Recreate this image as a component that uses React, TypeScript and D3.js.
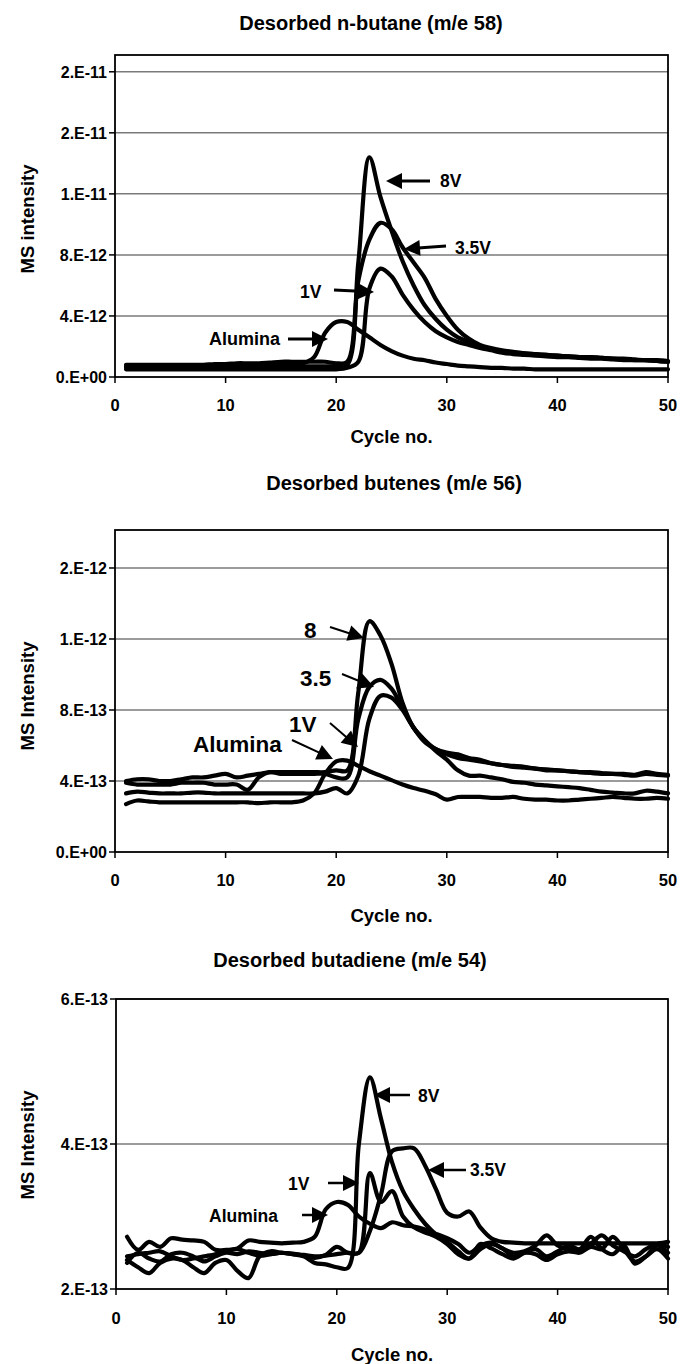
import React from 'react';
import * as d3 from 'd3';

// Cycle numbers shared by every panel
const cycles = d3.range(1, 51);

// Desorbed n-butane (m/e 58), intensity in units of 1e-12
const butaneAlumina = [
  0.7, 0.6, 0.6, 0.7, 0.7, 0.6, 0.6, 0.6, 0.7, 0.7,
  0.7, 0.7, 0.75, 0.8, 0.8, 0.85, 0.9, 1.3, 2.9, 3.6,
  3.6, 3.1, 2.6, 2.1, 1.7, 1.4, 1.2, 1.1, 0.95, 0.85,
  0.75, 0.7, 0.65, 0.6, 0.6, 0.55, 0.55, 0.5, 0.5, 0.5,
  0.5, 0.5, 0.5, 0.5, 0.5, 0.5, 0.5, 0.5, 0.5, 0.5,
];
const butane1V = [
  0.5, 0.5, 0.5, 0.5, 0.5, 0.5, 0.5, 0.5, 0.5, 0.5,
  0.5, 0.5, 0.5, 0.5, 0.5, 0.5, 0.5, 0.5, 0.5, 0.5,
  0.6, 1.0, 5.8, 7.1, 6.6, 5.4, 4.4, 3.6, 3.0, 2.6,
  2.3, 2.1, 1.9, 1.75, 1.6, 1.5, 1.45, 1.4, 1.35, 1.3,
  1.3, 1.25, 1.2, 1.2, 1.15, 1.1, 1.1, 1.1, 1.05, 1.0,
];
const butane35V = [
  0.8, 0.8, 0.8, 0.8, 0.8, 0.8, 0.8, 0.8, 0.85, 0.85,
  0.9, 0.9, 0.9, 0.95, 1.0, 1.0, 1.0, 1.0, 1.0, 0.9,
  1.0, 6.3, 9.0, 10.1, 9.7, 8.5, 7.5, 6.5, 5.1, 4.0,
  3.1, 2.5, 2.1, 1.9, 1.75, 1.65, 1.55, 1.5, 1.45, 1.4,
  1.35, 1.3, 1.3, 1.25, 1.2, 1.15, 1.1, 1.1, 1.05, 1.0,
];
const butane8V = [
  0.6, 0.6, 0.6, 0.6, 0.6, 0.6, 0.6, 0.6, 0.6, 0.6,
  0.6, 0.6, 0.65, 0.7, 0.7, 0.7, 0.7, 0.7, 0.7, 0.7,
  0.8, 7.5, 14.4, 11.8, 9.6, 7.6, 6.0, 4.7, 3.8, 3.1,
  2.6, 2.3, 2.0, 1.8, 1.7, 1.6, 1.55, 1.5, 1.45, 1.4,
  1.35, 1.3, 1.3, 1.25, 1.2, 1.2, 1.15, 1.1, 1.1, 1.05,
];
const butaneTicks = [0, 4, 8, 12, 16, 20];
const butaneTickLabels = ['0.E+00', '4.E-12', '8.E-12', '1.E-11', '2.E-11', '2.E-11'];

// Desorbed butenes (m/e 56), intensity in units of 1e-13
const buteneAlumina = [
  2.7, 2.9, 2.85, 2.8, 2.8, 2.8, 2.8, 2.8, 2.8, 2.8,
  2.8, 2.8, 2.75, 2.8, 2.8, 2.8, 2.9, 3.3, 4.4, 5.1,
  5.15, 4.85, 4.55, 4.3, 4.05, 3.8, 3.6, 3.45, 3.25, 2.95,
  3.1, 3.1, 3.1, 3.05, 3.05, 3.1, 3.0, 2.95, 2.95, 2.9,
  2.9, 2.95, 3.0, 3.05, 3.1, 3.05, 3.0, 3.0, 3.05, 3.0,
];
const butene1V = [
  3.3, 3.4, 3.35, 3.3, 3.3, 3.3, 3.35, 3.35, 3.3, 3.3,
  3.3, 3.3, 3.3, 3.3, 3.3, 3.3, 3.3, 3.3, 3.4, 3.6,
  3.3, 4.3, 7.5, 8.8, 8.7, 8.0, 7.0, 6.3, 5.7, 5.2,
  4.6, 4.3, 4.3, 4.2, 4.1, 3.95, 3.9, 3.8, 3.75, 3.7,
  3.65, 3.6, 3.5, 3.4, 3.35, 3.3, 3.3, 3.45, 3.4, 3.3,
];
const butene35V = [
  3.9, 3.8, 3.8, 3.8, 3.8, 3.9, 3.9, 3.9, 3.8, 3.8,
  3.8, 3.5, 4.2, 4.5, 4.4, 4.4, 4.4, 4.4, 4.4, 4.2,
  4.2, 7.5, 9.3, 9.7, 9.2, 8.1, 7.0, 6.2, 5.8, 5.5,
  5.3, 5.2, 5.1, 5.0, 4.9, 4.8, 4.75, 4.7, 4.65, 4.6,
  4.55, 4.5, 4.45, 4.4, 4.4, 4.35, 4.3, 4.4, 4.35, 4.3,
];
const butene8V = [
  4.0, 4.1, 4.1, 4.0, 4.0, 4.1, 4.2, 4.2, 4.3, 4.4,
  4.2, 4.3, 4.4, 4.5, 4.5, 4.5, 4.5, 4.5, 4.5, 4.6,
  4.6, 9.0, 13.0, 12.2, 10.6, 8.4, 7.0, 6.3, 5.8, 5.6,
  5.5, 5.3, 5.2, 5.0, 4.9, 4.85, 4.8, 4.7, 4.6, 4.6,
  4.55, 4.5, 4.5, 4.45, 4.4, 4.4, 4.35, 4.5, 4.4, 4.35,
];
const buteneTicks = [0, 4, 8, 12, 16];
const buteneTickLabels = ['0.E+00', '4.E-13', '8.E-13', '1.E-12', '2.E-12'];

// Desorbed butadiene (m/e 54), intensity in units of 1e-13
const butadieneAlumina = [
  2.72, 2.54, 2.65, 2.58, 2.7, 2.68, 2.67, 2.65, 2.54, 2.54,
  2.56, 2.67, 2.65, 2.64, 2.63, 2.64, 2.65, 2.72, 3.1, 3.2,
  3.16, 3.0, 2.9, 2.84, 2.92, 2.88, 2.86, 2.82, 2.76, 2.7,
  2.62, 2.5, 2.6, 2.64, 2.56, 2.5, 2.52, 2.6, 2.74, 2.6,
  2.55, 2.52, 2.62, 2.74, 2.6, 2.52, 2.45, 2.55, 2.62, 2.58,
];
const butadiene1V = [
  2.4, 2.3, 2.22, 2.36, 2.42, 2.4, 2.3, 2.22, 2.36, 2.4,
  2.25, 2.15, 2.45, 2.52, 2.5, 2.49, 2.46, 2.43, 2.47, 2.58,
  2.5, 2.5, 3.6, 3.2, 3.35, 3.0, 2.85, 2.78, 2.72, 2.62,
  2.48, 2.42, 2.55, 2.62, 2.56, 2.45, 2.5, 2.48, 2.4, 2.48,
  2.52, 2.5, 2.58, 2.55, 2.72, 2.55, 2.38, 2.45, 2.55, 2.42,
];
const butadiene35V = [
  2.45, 2.48, 2.5, 2.52, 2.45, 2.4, 2.42, 2.45, 2.48, 2.52,
  2.55, 2.5, 2.46, 2.48, 2.5, 2.48, 2.47, 2.45, 2.46, 2.48,
  2.5, 2.5, 2.8, 3.3, 3.9, 3.94, 3.94, 3.7, 3.37, 3.05,
  3.0, 3.07, 2.85, 2.7, 2.65, 2.64, 2.63, 2.63, 2.63, 2.63,
  2.63, 2.63, 2.63, 2.63, 2.63, 2.63, 2.63, 2.63, 2.63, 2.65,
];
const butadiene8V = [
  2.36, 2.5, 2.42, 2.38, 2.48, 2.5, 2.45, 2.38, 2.45, 2.5,
  2.48, 2.52, 2.5, 2.48, 2.5, 2.48, 2.45, 2.36, 2.34, 2.3,
  2.29, 4.0, 4.92, 4.35, 3.75, 3.35, 3.1, 2.9, 2.75, 2.65,
  2.52, 2.42, 2.62, 2.56, 2.48, 2.42, 2.5, 2.55, 2.45, 2.52,
  2.6, 2.55, 2.72, 2.55, 2.48, 2.6, 2.35, 2.45, 2.6, 2.5,
];
const butadieneTicks = [2, 4, 6];
const butadieneTickLabels = ['2.E-13', '4.E-13', '6.E-13'];

const xTicks = [0, 10, 20, 30, 40, 50];

type Note = { text: string; tx: number; ty: number; x1: number; y1: number; x2: number; y2: number; size: number; lw: number };

type Panel = {
  title: string; titleX: number; titleY: number;
  yLabel: string; yLabelY: number;
  left: number; right: number; top: number; bottom: number;
  yDomain: [number, number];
  ticks: number[]; tickLabels: string[];
  xTickY: number; xTitleY: number;
  series: number[][];
  notes: Note[];
};

const panels: Panel[] = [
  {
    title: 'Desorbed n-butane (m/e 58)', titleX: 371, titleY: 23,
    yLabel: 'MS intensity', yLabelY: 219,
    left: 115, right: 668, top: 55, bottom: 377,
    yDomain: [0, 21.1], ticks: butaneTicks, tickLabels: butaneTickLabels,
    xTickY: 405, xTitleY: 436,
    series: [butaneAlumina, butane1V, butane35V, butane8V],
    notes: [
      { text: '8V', tx: 440, ty: 181, x1: 430, y1: 181, x2: 386, y2: 181, size: 17.5, lw: 3 },
      { text: '3.5V', tx: 455, ty: 248, x1: 446, y1: 246, x2: 404, y2: 249, size: 17.5, lw: 3 },
      { text: '1V', tx: 300, ty: 292, x1: 334, y1: 290, x2: 374, y2: 292, size: 17.5, lw: 3 },
      { text: 'Alumina', tx: 209, ty: 339, x1: 288, y1: 339, x2: 328, y2: 339, size: 18, lw: 3 },
    ],
  },
  {
    title: 'Desorbed butenes (m/e  56)', titleX: 394, titleY: 483,
    yLabel: 'MS Intensity', yLabelY: 696,
    left: 115, right: 668, top: 530, bottom: 852,
    yDomain: [0, 18.14], ticks: buteneTicks, tickLabels: buteneTickLabels,
    xTickY: 880, xTitleY: 915,
    series: [buteneAlumina, butene1V, butene35V, butene8V],
    notes: [
      { text: '8', tx: 304, ty: 630, x1: 330, y1: 627, x2: 364, y2: 638, size: 22.5, lw: 2 },
      { text: '3.5', tx: 300, ty: 678, x1: 342, y1: 674, x2: 374, y2: 687, size: 22.5, lw: 2 },
      { text: '1V', tx: 289, ty: 724, x1: 330, y1: 723, x2: 358, y2: 747, size: 22.5, lw: 2 },
      { text: 'Alumina', tx: 193, ty: 744, x1: 292, y1: 740, x2: 333, y2: 759, size: 22.5, lw: 2 },
    ],
  },
  {
    title: 'Desorbed butadiene (m/e 54)', titleX: 350, titleY: 960,
    yLabel: 'MS Intensity', yLabelY: 1145,
    left: 116, right: 668, top: 999, bottom: 1289,
    yDomain: [2, 6], ticks: butadieneTicks, tickLabels: butadieneTickLabels,
    xTickY: 1318, xTitleY: 1354,
    series: [butadieneAlumina, butadiene1V, butadiene35V, butadiene8V],
    notes: [
      { text: '8V', tx: 418, ty: 1096, x1: 410, y1: 1095, x2: 374, y2: 1095, size: 17.5, lw: 2.5 },
      { text: '3.5V', tx: 470, ty: 1170, x1: 466, y1: 1170, x2: 428, y2: 1170, size: 17.5, lw: 2.5 },
      { text: '1V', tx: 288, ty: 1184, x1: 328, y1: 1183, x2: 359, y2: 1183, size: 17.5, lw: 2.5 },
      { text: 'Alumina', tx: 209, ty: 1216, x1: 302, y1: 1215, x2: 328, y2: 1215, size: 17.5, lw: 2.5 },
    ],
  },
];

const FONT = 'Liberation Sans, Arial, sans-serif';

function Arrow({ n }: { n: Note }) {
  const dx = n.x2 - n.x1;
  const dy = n.y2 - n.y1;
  const len = Math.hypot(dx, dy);
  const ux = dx / len;
  const uy = dy / len;
  const L = 16;
  const hw = 8;
  const bx = n.x2 - ux * L;
  const by = n.y2 - uy * L;
  const pts = [
    [n.x2, n.y2],
    [bx - uy * hw, by + ux * hw],
    [bx + uy * hw, by - ux * hw],
  ].map((p) => p.join(',')).join(' ');
  return (
    <g>
      <line x1={n.x1} y1={n.y1} x2={bx + ux * 2} y2={by + uy * 2} stroke="#000" strokeWidth={n.lw} />
      <polygon points={pts} fill="#000" />
      <text x={n.tx} y={n.ty} dy="0.36em" fontSize={n.size} fontWeight="bold" fontFamily={FONT}>
        {n.text}
      </text>
    </g>
  );
}

function Chart({ p }: { p: Panel }) {
  const x = d3.scaleLinear().domain([0, 50]).range([p.left, p.right]);
  const y = d3.scaleLinear().domain(p.yDomain).range([p.bottom, p.top]);
  const line = d3
    .line<number>()
    .x((_, i) => x(cycles[i]))
    .y((d) => y(d))
    .curve(d3.curveCatmullRom.alpha(0.5));
  const gridTicks = p.ticks.filter((t) => t > p.yDomain[0]);
  return (
    <g>
      <text x={p.titleX} y={p.titleY} dy="0.36em" textAnchor="middle" fontSize={20} fontWeight="bold" fontFamily={FONT}>
        {p.title}
      </text>
      {gridTicks.map((t) => (
        <line key={'g' + t} x1={p.left} x2={p.right} y1={y(t)} y2={y(t)} stroke="#7a7a7a" strokeWidth={1.5} />
      ))}
      <rect x={p.left} y={p.top} width={p.right - p.left} height={p.bottom - p.top} fill="none" stroke="#000" strokeWidth={1.8} />
      {p.ticks.map((t, i) => (
        <g key={'y' + t}>
          <line x1={p.left - 6} x2={p.left} y1={y(t)} y2={y(t)} stroke="#000" strokeWidth={1.5} />
          <text x={p.left - 8} y={y(t)} dy="0.36em" textAnchor="end" fontSize={16} fontWeight="bold" fontFamily={FONT}>
            {p.tickLabels[i]}
          </text>
        </g>
      ))}
      {xTicks.map((t) => (
        <g key={'x' + t}>
          <line x1={x(t)} x2={x(t)} y1={p.bottom} y2={p.bottom + 6} stroke="#000" strokeWidth={1.5} />
          <text x={x(t)} y={p.xTickY} dy="0.36em" textAnchor="middle" fontSize={16.5} fontWeight="bold" fontFamily={FONT}>
            {t}
          </text>
        </g>
      ))}
      <text x={(p.left + p.right) / 2} y={p.xTitleY} dy="0.36em" textAnchor="middle" fontSize={18.5} fontWeight="bold" fontFamily={FONT}>
        Cycle no.
      </text>
      <text
        transform={`translate(27,${p.yLabelY}) rotate(-90)`}
        dy="0.36em"
        textAnchor="middle"
        fontSize={18.5}
        fontWeight="bold"
        fontFamily={FONT}
      >
        {p.yLabel}
      </text>
      {p.series.map((s, i) => (
        <path key={'s' + i} d={line(s) ?? ''} fill="none" stroke="#000" strokeWidth={4.2} strokeLinejoin="round" strokeLinecap="round" />
      ))}
      {p.notes.map((n, i) => (
        <Arrow key={'n' + i} n={n} />
      ))}
    </g>
  );
}

export default function App() {
  return (
    <svg
      width={681}
      height={1364}
      viewBox="0 0 681 1364"
      style={{ position: 'absolute', left: 0, top: 0, background: '#fff' }}
    >
      <rect width={681} height={1364} fill="#fff" />
      {panels.map((p, i) => (
        <Chart key={i} p={p} />
      ))}
    </svg>
  );
}
